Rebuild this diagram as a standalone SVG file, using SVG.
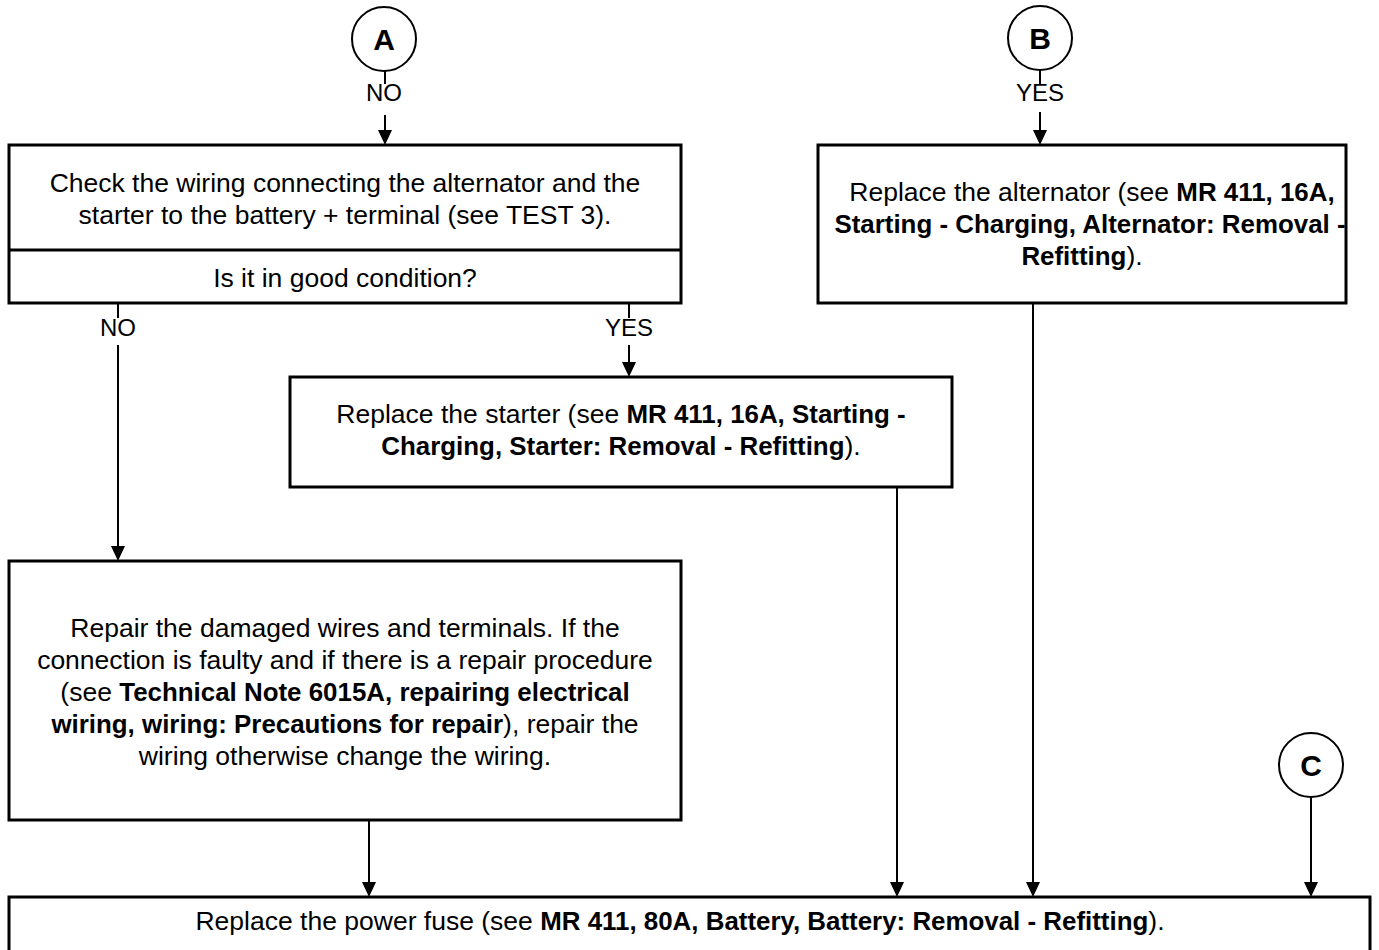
<svg xmlns="http://www.w3.org/2000/svg" width="1379" height="950" viewBox="0 0 1379 950">
  <style>
    .box { fill: #fff; stroke: #000; stroke-width: 3; }
    .circ { fill: #fff; stroke: #000; stroke-width: 2; }
    .t { font-family: "Liberation Sans", Arial, sans-serif; font-size: 26.5px; fill: #000; text-anchor: middle; }
    .b { font-weight: bold; font-size: 25.9px; }
    .lbl { font-family: "Liberation Sans", Arial, sans-serif; font-size: 24px; fill: #000; text-anchor: middle; }
    .ltr { font-family: "Liberation Sans", Arial, sans-serif; font-size: 30px; font-weight: bold; fill: #000; text-anchor: middle; }
    .wire { fill: none; stroke: #000; stroke-width: 2; }
    .head { fill: #000; }
  </style>
  <rect width="1379" height="950" fill="#fff"/>

  <!-- connectors -->
  <g id="connectors">
    <!-- from A -->
    <line class="wire" x1="385" y1="71" x2="385" y2="84"/>
    <line class="wire" x1="385" y1="115" x2="385" y2="131"/>
    <path class="head" d="M378,130 L392,130 L385,145 Z"/>
    <!-- from B -->
    <line class="wire" x1="1040" y1="70" x2="1040" y2="84"/>
    <line class="wire" x1="1040" y1="112" x2="1040" y2="131"/>
    <path class="head" d="M1033,130 L1047,130 L1040,145 Z"/>
    <!-- NO branch -->
    <line class="wire" x1="118" y1="303" x2="118" y2="318"/>
    <line class="wire" x1="118" y1="345" x2="118" y2="547"/>
    <path class="head" d="M111,546 L125,546 L118,561 Z"/>
    <!-- YES branch -->
    <line class="wire" x1="629" y1="303" x2="629" y2="318"/>
    <line class="wire" x1="629" y1="345" x2="629" y2="363"/>
    <path class="head" d="M622,362 L636,362 L629,377 Z"/>
    <!-- into the power fuse box -->
    <line class="wire" x1="369" y1="820" x2="369" y2="883"/>
    <path class="head" d="M362,882 L376,882 L369,897 Z"/>
    <line class="wire" x1="897" y1="487" x2="897" y2="883"/>
    <path class="head" d="M890,882 L904,882 L897,897 Z"/>
    <line class="wire" x1="1033" y1="303" x2="1033" y2="883"/>
    <path class="head" d="M1026,882 L1040,882 L1033,897 Z"/>
    <line class="wire" x1="1311" y1="797" x2="1311" y2="883"/>
    <path class="head" d="M1304,882 L1318,882 L1311,897 Z"/>
    <!-- branch labels -->
    <text class="lbl" x="384" y="101">NO</text>
    <text class="lbl" x="1040" y="101">YES</text>
    <text class="lbl" x="118" y="336">NO</text>
    <text class="lbl" x="629" y="336">YES</text>
  </g>

  <g id="connA">
    <circle class="circ" cx="384" cy="39" r="32"/>
    <text class="ltr" x="384" y="50">A</text>
  </g>
  <g id="connB">
    <circle class="circ" cx="1040" cy="38" r="32"/>
    <text class="ltr" x="1040" y="49">B</text>
  </g>
  <g id="connC">
    <circle class="circ" cx="1311" cy="765" r="32"/>
    <text class="ltr" x="1311" y="776">C</text>
  </g>

  <g id="checkWiring">
    <rect class="box" x="9" y="145" width="672" height="158"/>
    <line stroke="#000" stroke-width="3" x1="9" y1="250" x2="681" y2="250"/>
    <text class="t" x="345" y="192">Check the wiring connecting the alternator and the</text>
    <text class="t" x="345" y="224">starter to the battery + terminal (see TEST 3).</text>
    <text class="t" x="345" y="287">Is it in good condition?</text>
  </g>

  <g id="replaceAlternator">
    <rect class="box" x="818" y="145" width="528" height="158"/>
    <text class="t" x="1092" y="201">Replace the alternator (see <tspan class="b">MR 411, 16A,</tspan></text>
    <text class="t b" x="1090" y="233">Starting - Charging, Alternator: Removal -</text>
    <text class="t" x="1082" y="265"><tspan class="b">Refitting</tspan>).</text>
  </g>

  <g id="replaceStarter">
    <rect class="box" x="290" y="377" width="662" height="110"/>
    <text class="t" x="621" y="423">Replace the starter (see <tspan class="b">MR 411, 16A, Starting -</tspan></text>
    <text class="t" x="621" y="455"><tspan class="b">Charging, Starter: Removal - Refitting</tspan>).</text>
  </g>

  <g id="repairWiring">
    <rect class="box" x="9" y="561" width="672" height="259"/>
    <text class="t" x="345" y="637">Repair the damaged wires and terminals. If the</text>
    <text class="t" x="345" y="669">connection is faulty and if there is a repair procedure</text>
    <text class="t" x="345" y="701">(see <tspan class="b">Technical Note 6015A, repairing electrical</tspan></text>
    <text class="t" x="345" y="733"><tspan class="b">wiring, wiring: Precautions for repair</tspan>), repair the</text>
    <text class="t" x="345" y="765">wiring otherwise change the wiring.</text>
  </g>

  <g id="replaceFuse">
    <rect class="box" x="9" y="897" width="1361" height="80"/>
    <text class="t" x="680" y="930">Replace the power fuse (see <tspan class="b">MR 411, 80A, Battery, Battery: Removal - Refitting</tspan>).</text>
  </g>
</svg>
